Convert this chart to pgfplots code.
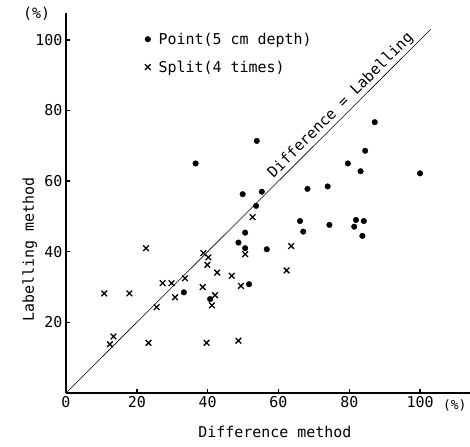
\documentclass[border=0pt]{standalone}
\usepackage{fontspec}
\setmainfont{DejaVu Sans Mono}
\usepackage{pgfplots}
\pgfplotsset{compat=1.18}
\begin{document}
\begin{tikzpicture}
\begin{axis}[
  x=3.54bp, y=3.53bp,
  xmin=0, xmax=114, ymin=0, ymax=107.5,
  axis x line=bottom, axis y line=left,
  axis line style={-, line width=1.3pt},
  xtick={0,20,40,60,80,100}, ytick={20,40,60,80,100},
  tick align=inside, major tick length=4bp,
  tick style={line width=1.5pt, black},
  /pgf/number format/assume math mode=true,
  ticklabel style={font=\fontsize{15}{17}\selectfont},
  clip=false,
  legend style={draw=none, fill=none, at={(axis cs:21.4,103.2)}, anchor=north west,
    font=\fontsize{15}{17}\selectfont, row sep=11bp, cells={anchor=west}},
]
\addplot[black, line width=0.6pt, no marks, forget plot] coordinates {(0,0) (103,103)};
\addplot[only marks, mark=*, mark size=2.8pt, black] coordinates {
(36.6,65.0) (53.9,71.4) (49.9,56.3) (55.3,57.0) (53.7,53.0) (87.2,76.7)
(84.5,68.6) (79.6,65.0) (83.2,62.8) (100.0,62.2) (68.2,57.8) (73.9,58.5)
(66.1,48.7) (50.6,45.4) (67.0,45.7) (74.4,47.6) (81.9,49.0) (84.1,48.7)
(81.4,47.1) (83.7,44.5) (48.7,42.6) (50.6,41.0) (56.7,40.7) (51.7,30.8)
(33.3,28.5) (40.7,26.6)
};
\addlegendentry{\hspace{6bp}Point(5 cm depth)}
\addplot[only marks, mark=x, mark size=4pt, line width=1.3pt, black] coordinates {
(10.8,28.2) (17.9,28.2) (22.6,41.0) (25.6,24.3) (27.3,31.1) (29.8,31.1)
(30.8,27.1) (33.6,32.5) (38.8,39.6) (40.2,38.4) (39.9,36.3) (42.7,34.1)
(46.8,33.2) (38.6,30.0) (42.1,27.7) (41.2,24.8) (49.4,30.3) (50.6,39.3)
(52.7,49.8) (63.6,41.6) (62.3,34.7) (13.4,16.0) (12.4,13.8) (23.3,14.2)
(39.7,14.2) (48.7,14.8)
};
\addlegendentry{\hspace{6bp}Split(4 times)}
\node[rotate=45, anchor=south, inner sep=2bp, font=\fontsize{15}{17}\selectfont] at (axis cs:79.5,79.5) {Difference = Labelling};
\node[font=\fontsize{15}{17}\selectfont] at (axis cs:59,-11) {Difference method};
\node[rotate=90, font=\fontsize{15}{17}\selectfont] at (axis cs:-10.2,40.5) {Labelling method};
\node[font=\fontsize{13}{15}\selectfont, inner sep=0pt] at (axis cs:109.8,-3.4) {(\%)};
\node[font=\fontsize{15}{17}\selectfont] at (axis cs:-8.3,107.5) {(\%)};
\coordinate (BL) at (axis cs:-18.64,-15.3);
\coordinate (TR) at (axis cs:114.1,111.3);
\end{axis}
\pgfresetboundingbox
\path[use as bounding box] (BL) rectangle (TR);
\end{tikzpicture}
\end{document}
